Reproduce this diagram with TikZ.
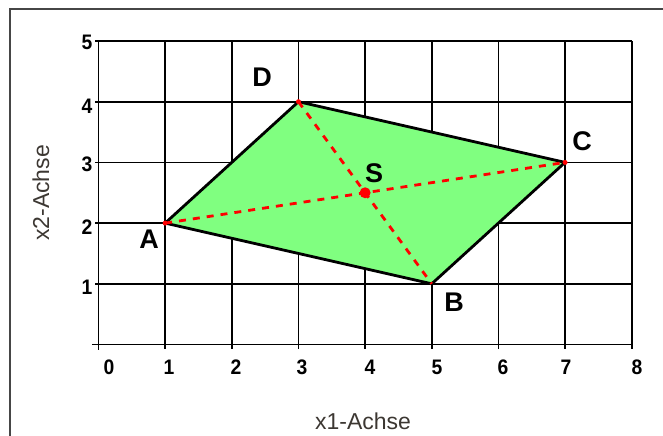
\documentclass[tikz,border=0pt]{standalone}
\usepackage{fontspec}
\setmainfont{Liberation Sans}
\definecolor{fillgreen}{RGB}{128,255,128}
\definecolor{framegray}{RGB}{70,70,70}
\definecolor{titlegray}{RGB}{60,55,50}
\begin{document}
\begin{tikzpicture}[x=66.65pt,y=60.7pt,
  gridline/.style={black,line width=1.6pt},
  quadshape/.style={draw=black,fill=fillgreen,line width=2.8pt,line join=round},
  diag/.style={red,line width=2.8pt,dash pattern=on 7pt off 7pt},
  num/.style={font=\fontsize{21}{21}\selectfont\bfseries,inner sep=0pt,xscale=0.92},
  ptlabel/.style={font=\fontsize{27}{27}\selectfont\bfseries,inner sep=0pt},
  axtitle/.style={font=\fontsize{23}{23}\selectfont,text=titlegray,inner sep=0pt}]
\useasboundingbox (-1.4779,-1.4909) rectangle (8.4696,5.6755);
% outer frame (open to the right and bottom)
\draw[framegray,line width=2pt] (-1.328,-1.5) -- (-1.328,5.527) -- (8.5,5.527);
% grid
\foreach \i in {0,...,8} \draw[gridline] (\i,0) -- (\i,5);
\foreach \j in {0,...,5} \draw[gridline] (0,\j) -- (8,\j);
\foreach \i in {1,...,8} \draw[gridline] (\i,0) -- (\i,-0.075);
\draw[gridline] (-0.1,0) -- (0,0);
\draw[gridline] (0,0) -- (0,-0.085);
\foreach \j in {1,...,5} \draw[gridline] (-0.05,\j) -- (0,\j);
% axis numbers
\foreach \i/\xx in {0/109,1/169,2/236,3/302,4/370,5/437,6/503,7/566,8/637}
  \node[num] (nx\i) at ({(\xx-98.5)/66.65},{(344.5-367)/60.7}) {\i};
\foreach \j/\yy in {1/287,2/227,3/164,4/106,5/42}
  \node[num] (ny\j) at ({(87-98.5)/66.65},{(344.5-\yy)/60.7}) {\j};
% axis titles
\node[axtitle] (xt) at ({(363-98.5)/66.65},{(344.5-421)/60.7}) {x1-Achse};
\node[axtitle,rotate=90] (yt) at ({(41-98.5)/66.65},{(344.5-193)/60.7}) {x2-Achse};
% points
\coordinate (A) at (1,2);
\coordinate (B) at (5,1);
\coordinate (C) at (7,3);
\coordinate (D) at (3,4);
\coordinate (S) at (4,2.5);
\draw[quadshape] (A) -- (B) -- (C) -- (D) -- cycle;
\draw[diag] (A) -- (C);
\draw[diag] (D) -- (B);
\fill[red] (S) circle (5.5pt);
\fill[red] (A) circle (2.5pt);
\fill[red] (C) circle (2.5pt);
\fill[red] (D) circle (2.5pt);
% point labels
\node[ptlabel] (lA) at ({(149-98.5)/66.65},{(344.5-239)/60.7}) {A};
\node[ptlabel] (lB) at ({(454-98.5)/66.65},{(344.5-302)/60.7}) {B};
\node[ptlabel] (lC) at ({(582-98.5)/66.65},{(344.5-141)/60.7}) {C};
\node[ptlabel] (lD) at ({(262-98.5)/66.65},{(344.5-77)/60.7}) {D};
\node[ptlabel] (lS) at ({(374-98.5)/66.65},{(344.5-173)/60.7}) {S};
\end{tikzpicture}
\end{document}
